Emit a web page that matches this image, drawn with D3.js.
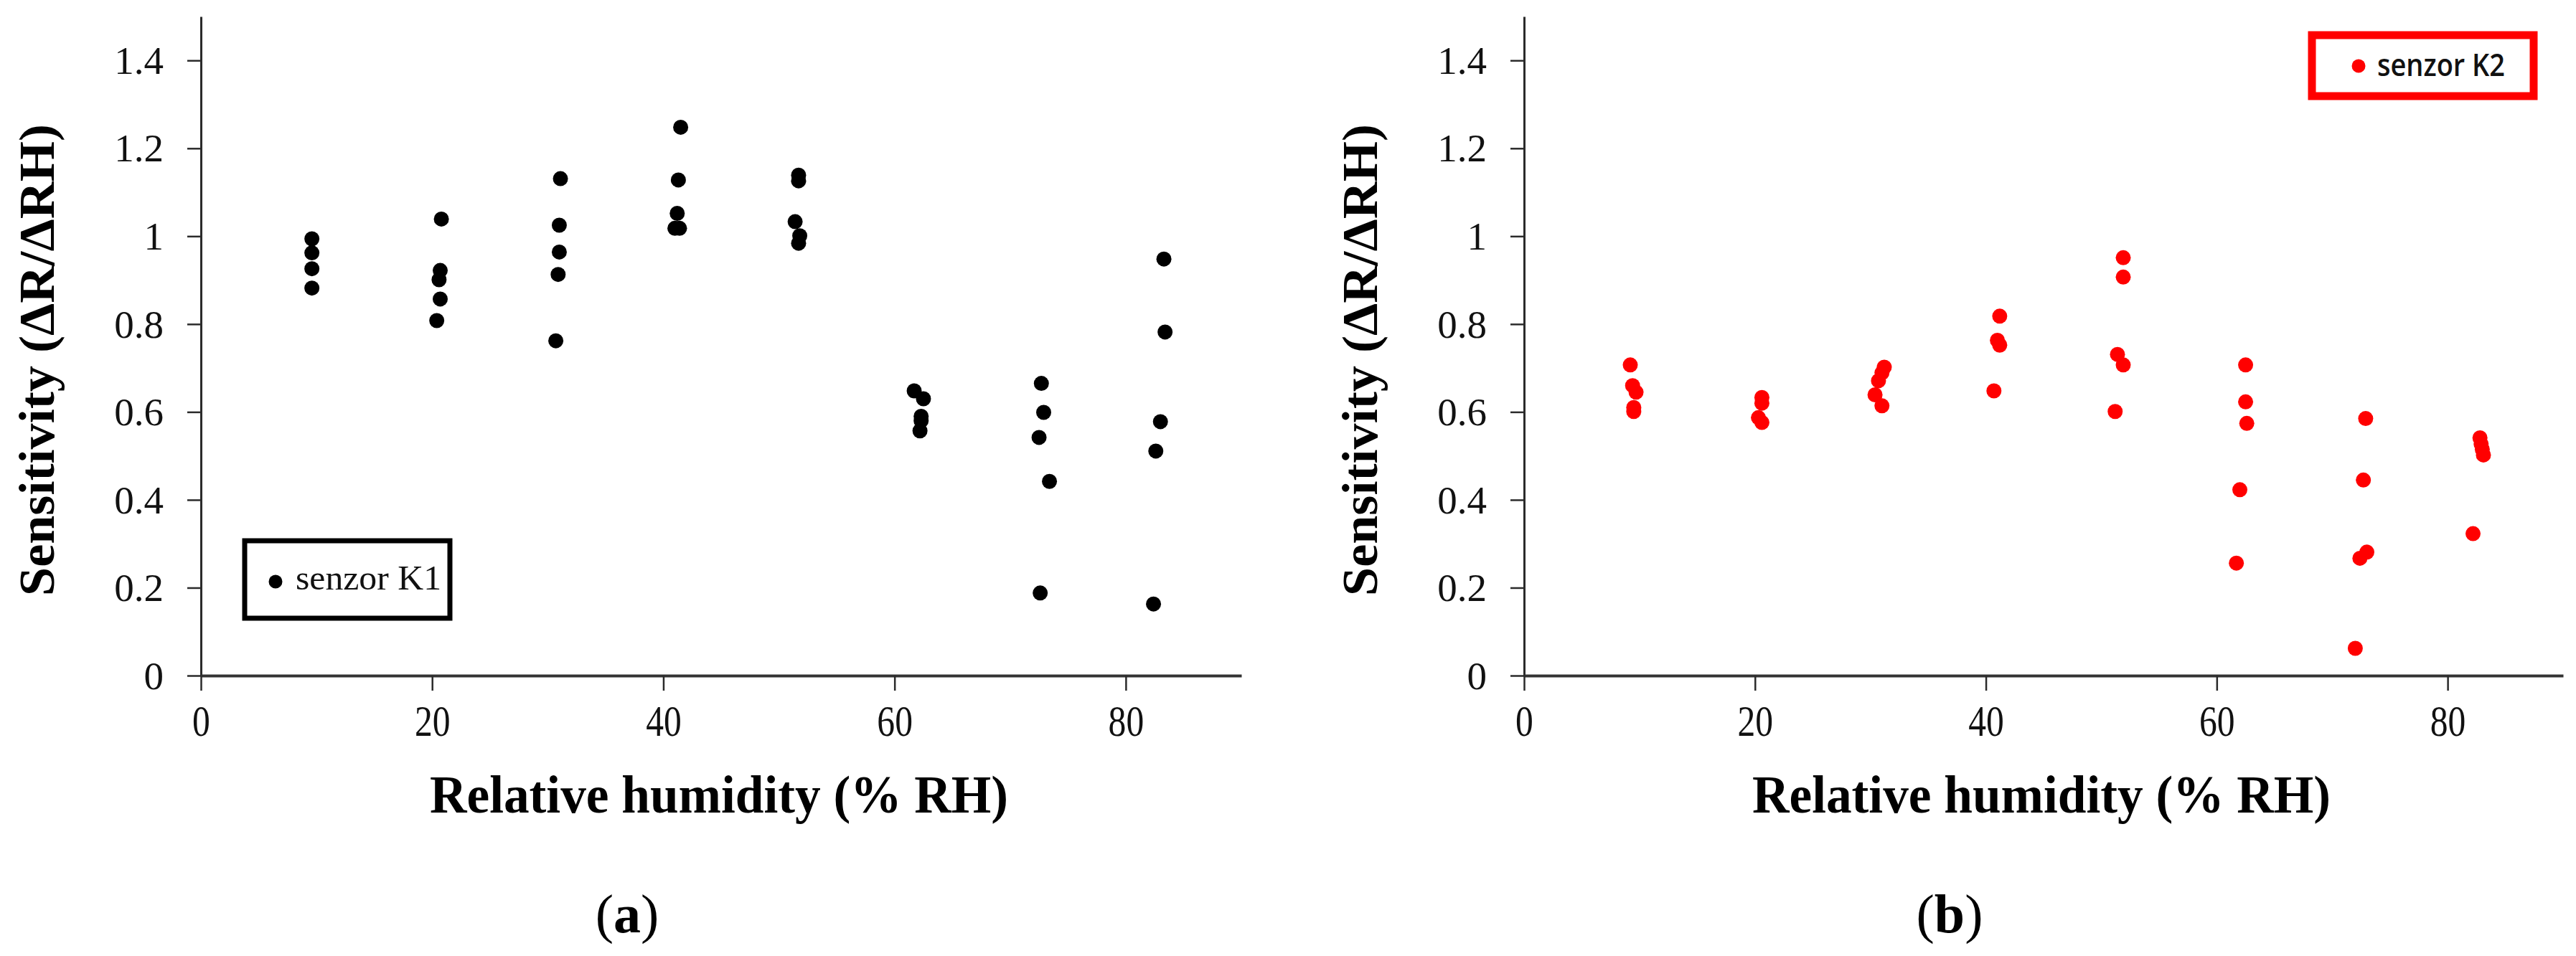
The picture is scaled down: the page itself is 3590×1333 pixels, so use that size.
<!DOCTYPE html>
<html>
<head>
<meta charset="utf-8">
<script src="https://cdn.jsdelivr.net/npm/d3@7"></script>
<style>
  html, body { margin: 0; padding: 0; background: #fff; }
  svg { display: block; }
</style>
</head>
<body>
<div id="chart"></div>
<script>
// data
var humidityK1 = [9.6, 9.6, 9.6, 9.6,
  20.8, 20.7, 20.6, 20.7, 20.4,
  31.1, 31.0, 31.0, 30.9, 30.7,
  41.5, 41.3, 41.2, 41.0, 41.4,
  51.7, 51.7, 51.4, 51.8, 51.7,
  61.7, 62.5, 62.3, 62.3, 62.2,
  72.7, 72.9, 72.5, 73.4, 72.6,
  83.3, 83.4, 83.0, 82.6, 82.4];
var sensitivityK1 = [0.994, 0.962, 0.926, 0.882,
  1.039, 0.922, 0.901, 0.857, 0.808,
  1.131, 1.025, 0.964, 0.913, 0.762,
  1.248, 1.128, 1.052, 1.018, 1.018,
  1.139, 1.126, 1.033, 1.001, 0.984,
  0.648, 0.630, 0.590, 0.580, 0.557,
  0.665, 0.599, 0.542, 0.442, 0.188,
  0.948, 0.782, 0.578, 0.511, 0.163];

var humidityK2 = [9.2, 9.4, 9.7, 9.5, 9.5,
  20.6, 20.6, 20.3, 20.6,
  31.2, 31.0, 30.7, 30.4, 31.0,
  41.2, 41.0, 41.2, 40.7,
  51.9, 51.9, 51.4, 51.9, 51.2,
  62.5, 62.5, 62.6, 62.0, 61.7,
  72.9, 72.7, 73.0, 72.4, 72.0,
  82.8, 82.9, 83.0, 83.1, 82.2];
var sensitivityK2 = [0.707, 0.660, 0.645, 0.610, 0.601,
  0.633, 0.620, 0.587, 0.576,
  0.702, 0.689, 0.671, 0.639, 0.614,
  0.818, 0.763, 0.752, 0.648,
  0.951, 0.907, 0.731, 0.707, 0.601,
  0.707, 0.623, 0.574, 0.423, 0.256,
  0.585, 0.445, 0.281, 0.267, 0.062,
  0.541, 0.527, 0.515, 0.502, 0.323];

var xTicks = [0, 20, 40, 60, 80];
var yTicks = [0, 0.2, 0.4, 0.6, 0.8, 1, 1.2, 1.4];
var xTitle = "Relative humidity (% RH)";
var yTitle = "Sensitivity (\u0394R/\u0394RH)";

var width = 3590, height = 1333;

var svg = d3.select("#chart").append("svg")
  .attr("width", width)
  .attr("height", height);

svg.append("rect").attr("width", width).attr("height", height).attr("fill", "#fff");

drawPanel({
  left: 280, right: 1730,
  xs: humidityK1, ys: sensitivityK1,
  color: "#000",
  tag: "a",
  legend: { x: 341, y: 754, w: 286, h: 108, stroke: "#000", sw: 7,
            label: "senzor K1", font: "'Liberation Serif', 'Times New Roman', serif",
            size: 48, weight: "normal", textLen: 203, dotX: 384, dotY: 811, textX: 412, textY: 822 }
});

drawPanel({
  left: 2124, right: 3572,
  xs: humidityK2, ys: sensitivityK2,
  color: "#ff0000",
  tag: "b",
  legend: { x: 3222, y: 49, w: 309, h: 85, stroke: "#ff0000", sw: 11,
            label: "senzor K2", font: "'Open Sans', 'Noto Sans', sans-serif",
            size: 43, weight: 600, textLen: 178, dotX: 3287, dotY: 92, textX: 3313, textY: 106 }
});

function drawPanel(p) {
  var top = 23, bottom = 942;

  var x = d3.scaleLinear().domain([0, 90]).range([p.left, p.right]);
  var y = d3.scaleLinear().domain([0, 1.5]).range([bottom, top]);

  var g = svg.append("g");

  // y axis
  var yAxis = g.append("g")
    .attr("transform", "translate(" + p.left + ",0)")
    .call(d3.axisLeft(y).tickValues(yTicks).tickSize(19).tickSizeOuter(0).tickPadding(33)
      .tickFormat(function(d) { return String(d); }));
  yAxis.select(".domain").attr("stroke", "#2b2b2b").attr("stroke-width", 3);
  yAxis.selectAll(".tick line").attr("stroke", "#2b2b2b").attr("stroke-width", 2.5);
  yAxis.selectAll(".tick text")
    .attr("font-family", "'Liberation Serif', 'Times New Roman', serif")
    .attr("font-size", 55)
    .attr("fill", "#111")
    .attr("dy", "0.33em");

  // x axis
  var xAxis = g.append("g")
    .attr("transform", "translate(0," + bottom + ")")
    .call(d3.axisBottom(x).tickValues(xTicks).tickSize(21).tickSizeOuter(0).tickPadding(63));
  xAxis.select(".domain").attr("stroke", "#333").attr("stroke-width", 4);
  xAxis.selectAll(".tick line").attr("stroke", "#2b2b2b").attr("stroke-width", 2.5);
  xAxis.selectAll(".tick text")
    .attr("font-family", "'Liberation Serif', 'Times New Roman', serif")
    .attr("font-size", 62)
    .attr("fill", "#111")
    .attr("dy", 0)
    .attr("transform", "scale(0.8,1)");

  // axis titles
  g.append("text")
    .attr("transform", "translate(" + (p.left - 205) + "," + 502 + ") rotate(-90)")
    .attr("text-anchor", "middle")
    .attr("font-family", "'Liberation Serif', 'Times New Roman', serif")
    .attr("font-weight", "bold")
    .attr("font-size", 70)
    .attr("textLength", 658)
    .attr("lengthAdjust", "spacingAndGlyphs")
    .text(yTitle);

  g.append("text")
    .attr("x", (p.left + p.right) / 2 - 3)
    .attr("y", 1133)
    .attr("text-anchor", "middle")
    .attr("font-family", "'Liberation Serif', 'Times New Roman', serif")
    .attr("font-weight", "bold")
    .attr("font-size", 74)
    .attr("textLength", 806)
    .attr("lengthAdjust", "spacingAndGlyphs")
    .text(xTitle);

  // panel tag (a)/(b)
  var tag = g.append("text")
    .attr("x", (p.left + p.right) / 2 - 131)
    .attr("y", 1300)
    .attr("text-anchor", "middle")
    .attr("font-family", "'Liberation Serif', 'Times New Roman', serif")
    .attr("font-size", 76);
  tag.append("tspan").text("(");
  tag.append("tspan").attr("font-weight", "bold").text(p.tag);
  tag.append("tspan").text(")");

  // points
  g.append("g").selectAll("circle")
    .data(p.xs.map(function(v, i) { return [v, p.ys[i]]; }))
    .enter()
      .append("circle")
      .attr("cx", function(d) { return x(d[0]); })
      .attr("cy", function(d) { return y(d[1]); })
      .attr("r", 10.5)
      .attr("fill", p.color);

  // legend
  var L = p.legend;
  g.append("rect")
    .attr("x", L.x).attr("y", L.y)
    .attr("width", L.w).attr("height", L.h)
    .attr("fill", "#fff")
    .attr("stroke", L.stroke)
    .attr("stroke-width", L.sw);
  g.append("circle")
    .attr("cx", L.dotX).attr("cy", L.dotY)
    .attr("r", 9.5)
    .attr("fill", p.color);
  g.append("text")
    .attr("x", L.textX).attr("y", L.textY)
    .attr("font-family", L.font)
    .attr("font-weight", L.weight)
    .attr("font-size", L.size)
    .attr("fill", "#111")
    .attr("textLength", L.textLen)
    .attr("lengthAdjust", "spacingAndGlyphs")
    .text(L.label);
}
</script>
</body>
</html>
